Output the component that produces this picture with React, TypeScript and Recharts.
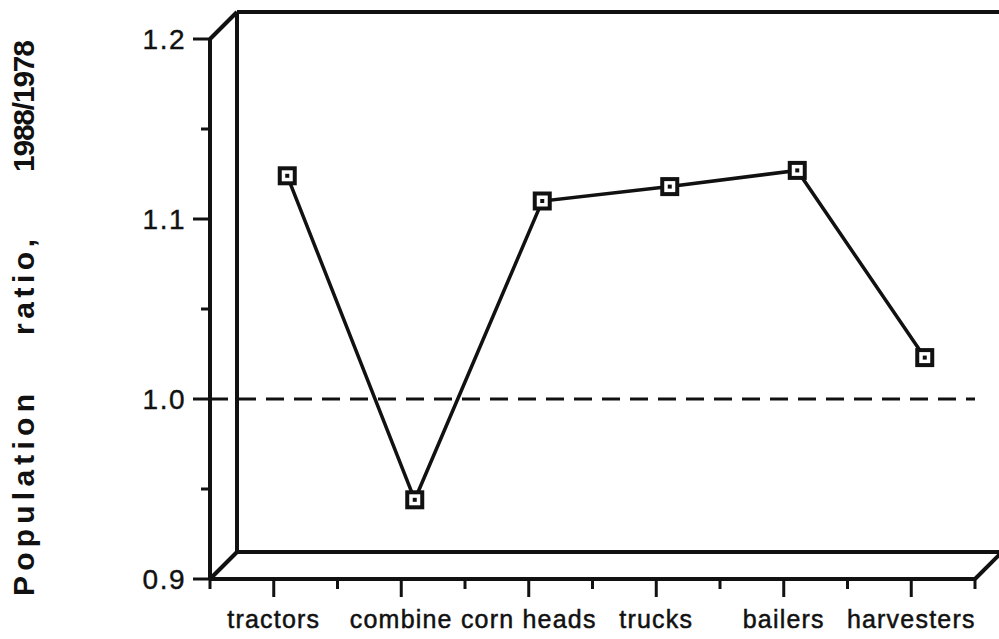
import {
  ComposedChart,
  Line,
  XAxis,
  YAxis,
  ReferenceLine,
  Customized,
} from 'recharts';

// values
const categories = ['tractors', 'combine', 'corn heads', 'trucks', 'bailers', 'harvesters'];
const ratios = [1.124, 0.944, 1.110, 1.118, 1.127, 1.023];
const yTicks = [0.9, 0.95, 1.0, 1.05, 1.1, 1.15, 1.2];
const yTickLabels = [0.9, 1.0, 1.1, 1.2];
const xTicks = [-0.5, 0, 0.5, 1, 1.5, 2, 2.5, 3, 3.5, 4, 4.5, 5, 5.5];
const titleWords = ['Population', 'ratio,', '1988/1978'];

const data = categories.map((name, i) => ({ name, pos: i, ratio: ratios[i] }));

const W = 999;
const H = 639;
const LEFT = 210;
const TOP = 39;
const RIGHT = 975;
const BOTTOM = 579;
const DEPTH = 27; // offset of the back wall in px
const FONT = '"Liberation Sans", Arial, Helvetica, sans-serif';
// the points sit halfway into the box
const shift = DEPTH / 2 / ((RIGHT - LEFT) / categories.length);

const XTick = (props: any) => {
  const { x, y, payload } = props;
  const v = payload.value;
  const major = Number.isInteger(v);
  return (
    <g>
      <line x1={x} x2={x} y1={y} y2={y + (major ? 18 : 10)} stroke="#111" strokeWidth={3} />
      {major && (
        <text
          x={x}
          y={y + 49}
          textAnchor="middle"
          fontFamily={FONT}
          fontSize={25}
          letterSpacing={1.2}
          fill="#111"
          stroke="#111"
          strokeWidth={0.5}
        >
          {categories[v]}
        </text>
      )}
    </g>
  );
};

const YTick = (props: any) => {
  const { x, y, payload } = props;
  const v = payload.value;
  const major = yTickLabels.some((t) => Math.abs(t - v) < 1e-6);
  return (
    <g>
      <line x1={x - (major ? 17 : 9)} x2={x} y1={y} y2={y} stroke="#111" strokeWidth={3} />
      {major && (
        <text
          x={x - 24}
          y={y + 10}
          textAnchor="end"
          fontFamily={FONT}
          fontSize={28}
          letterSpacing={1.5}
          fill="#111"
          stroke="#111"
          strokeWidth={0.4}
        >
          {v.toFixed(1)}
        </text>
      )}
    </g>
  );
};

const Marker = (props: any) => {
  const { cx, cy } = props;
  if (cx == null || cy == null) return null;
  return (
    <g>
      <rect x={cx - 7.5} y={cy - 7.5} width={15} height={15} fill="#fff" stroke="#111" strokeWidth={4} />
      <rect x={cx - 2} y={cy - 2} width={4} height={4} fill="#111" />
    </g>
  );
};

const Frame = () => {
  const s = { stroke: '#111', strokeWidth: 4, fill: 'none' };
  return (
    <g>
      <line x1={LEFT} y1={TOP} x2={LEFT + DEPTH} y2={TOP - DEPTH} {...s} />
      <line x1={LEFT + DEPTH} y1={TOP - DEPTH} x2={W + 5} y2={TOP - DEPTH} {...s} />
      <line x1={LEFT + DEPTH} y1={TOP - DEPTH} x2={LEFT + DEPTH} y2={BOTTOM - DEPTH} {...s} />
      <line x1={LEFT + DEPTH} y1={BOTTOM - DEPTH} x2={W + 5} y2={BOTTOM - DEPTH} {...s} />
      <line x1={LEFT} y1={BOTTOM} x2={LEFT + DEPTH} y2={BOTTOM - DEPTH} {...s} />
      <line x1={RIGHT} y1={BOTTOM} x2={RIGHT + DEPTH} y2={BOTTOM - DEPTH} {...s} />
    </g>
  );
};

const Title = () => {
  const spots = [
    { c: 495, len: 202 },
    { c: 287, len: 96 },
    { c: 106, len: 132 },
  ];
  return (
    <g>
      {titleWords.map((w, i) => (
        <text
          key={w}
          x={34}
          y={spots[i].c}
          transform={`rotate(-90, 34, ${spots[i].c})`}
          textAnchor="middle"
          fontFamily={FONT}
          fontWeight="bold"
          fontSize={30}
          textLength={spots[i].len}
          lengthAdjust="spacing"
          fill="#111"
        >
          {w}
        </text>
      ))}
    </g>
  );
};

export default function App() {
  return (
    <div style={{ position: 'absolute', left: 0, top: 0, width: W, height: H, background: '#fff' }}>
      <ComposedChart width={W} height={H} data={data} margin={{ top: TOP, right: W - RIGHT, bottom: 10, left: 0 }}>
        <Customized component={Frame} />
        <Customized component={Title} />
        <XAxis
          xAxisId="front"
          type="number"
          dataKey="pos"
          domain={[-0.5, 5.5]}
          ticks={xTicks}
          interval={0}
          height={H - BOTTOM - 10}
          tickSize={0}
          tickMargin={0}
          tickLine={false}
          axisLine={{ stroke: '#111', strokeWidth: 4 }}
          tick={XTick}
          allowDataOverflow
        />
        <XAxis
          xAxisId="back"
          type="number"
          dataKey="pos"
          domain={[-0.5 - shift, 5.5 - shift]}
          height={0}
          hide
          allowDataOverflow
        />
        <YAxis
          type="number"
          domain={[0.9, 1.2]}
          ticks={yTicks}
          interval={0}
          width={LEFT}
          tickSize={0}
          tickMargin={0}
          tickLine={false}
          axisLine={{ stroke: '#111', strokeWidth: 4 }}
          tick={YTick}
          allowDataOverflow
        />
        <ReferenceLine xAxisId="front" y={1.0} stroke="#111" strokeWidth={3} strokeDasharray="18 10" />
        <Line
          xAxisId="back"
          type="linear"
          dataKey="ratio"
          stroke="#111"
          strokeWidth={3.5}
          dot={<Marker />}
          activeDot={false}
          isAnimationActive={false}
        />
      </ComposedChart>
    </div>
  );
}
